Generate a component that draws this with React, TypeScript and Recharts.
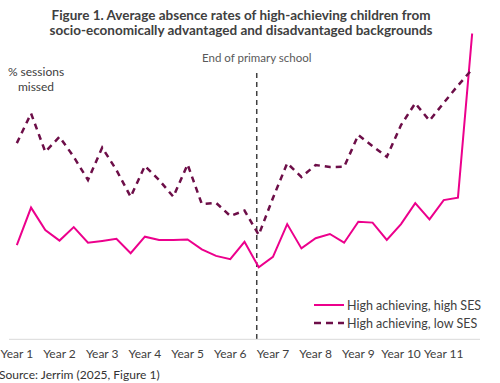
import React from "react"
import {
  LineChart,
  Line,
  XAxis,
  YAxis,
  ReferenceLine,
} from "recharts"

// three terms per school year, Year 1 to Year 11
const years = ["Year 1", "Year 2", "Year 3", "Year 4", "Year 5", "Year 6", "Year 7", "Year 8", "Year 9", "Year 10", "Year 11"]
const terms = ["Autumn", "Spring", "Summer"]

// % sessions missed (no axis values shown)
const highSes = [
  3.14, 4.39, 3.64, 3.29, 3.74, 3.22, 3.28, 3.35, 2.87, 3.42, 3.31,
  3.31, 3.33, 3.0, 2.78, 2.67, 3.25, 2.4, 2.75, 3.84, 3.03, 3.37,
  3.51, 3.22, 3.92, 3.89, 3.31, 3.84, 4.54, 4.0, 4.64, 4.72, 10.2,
]
const lowSes = [
  6.54, 7.53, 6.25, 6.75, 6.08, 5.31, 6.39, 5.64, 4.75, 5.78, 5.31,
  4.75, 5.83, 4.51, 4.55, 4.11, 4.29, 3.48, 4.71, 5.87, 5.41, 5.81,
  5.74, 5.75, 6.81, 6.44, 6.08, 7.14, 7.87, 7.29, 7.88, 8.46, 9.0,
]

const endOfPrimary = 16.86

const data = highSes.map((v, i) => ({
  idx: i,
  term: `${years[Math.floor(i / 3)]} ${terms[i % 3]}`,
  high: v,
  low: lowSes[i],
}))
const yearTicks = years.map((_, i) => i * 3)

const PINK = "#ec008c"
const MAROON = "#6d0e48"
const font = "Lato, 'Open Sans', sans-serif"

function LegendBox() {
  const row = { display: "flex", alignItems: "center", height: 18 }
  return (
    <div style={{ fontFamily: font, fontSize: 12.5, color: "#404040" }}>
      <div style={row}>
        <svg width={31} height={6}>
          <line x1={0} y1={3} x2={30} y2={3} stroke={PINK} strokeWidth={2} />
        </svg>
        <span style={{ marginLeft: 2 }}>High achieving, high SES</span>
      </div>
      <div style={row}>
        <svg width={31} height={6}>
          <line x1={0} y1={3} x2={30} y2={3} stroke={MAROON} strokeWidth={2.5} strokeDasharray="7 5" />
        </svg>
        <span style={{ marginLeft: 2 }}>High achieving, low SES</span>
      </div>
    </div>
  )
}

// eslint-disable-next-line @typescript-eslint/no-explicit-any
function RefLabel({ viewBox }: any) {
  const x = viewBox ? viewBox.x : 0
  const y = viewBox ? viewBox.y : 0
  return (
    <text x={x} y={y - 11} textAnchor="middle" fontFamily={font} fontSize={11.5} fill="#595959">
      End of primary school
    </text>
  )
}

export default function App() {
  return (
    <div style={{ position: "absolute", left: 0, top: 0, width: 500, height: 383, background: "#fff", overflow: "hidden", fontFamily: font }}>
      <div style={{ position: "absolute", left: 0, width: 482, top: 8, textAlign: "center", fontWeight: 700, fontSize: 13.5, lineHeight: "15px", color: "#404040" }}>
        Figure 1. Average absence rates of high-achieving children from
        <br />
        socio-economically advantaged and disadvantaged backgrounds
      </div>
      <div style={{ position: "absolute", left: 0, width: 72, top: 64, textAlign: "center", fontSize: 12, lineHeight: "15px", color: "#404040" }}>
        % sessions
        <br />
        missed
      </div>
      <div style={{ position: "absolute", left: -1, top: 367, fontSize: 12, color: "#333" }}>
        Source: Jerrim (2025, Figure 1)
      </div>
      <LineChart
        width={500}
        height={383}
        data={data}
        margin={{ top: 33.3, right: 20, bottom: 23.7, left: 9 }}
        style={{ position: "absolute", left: 0, top: 0 }}
      >
        <XAxis
          dataKey="idx"
          type="number"
          domain={[-0.55, 32.55]}
          allowDataOverflow
          ticks={yearTicks}
          tickFormatter={(v: number) => years[v / 3]}
          interval={0}
          axisLine={{ stroke: "#d9d9d9", strokeWidth: 1 }}
          tickLine={false}
          tick={{ fontSize: 12, fill: "#404040", fontFamily: font }}
          tickMargin={4}
          height={20}
        />
        <YAxis hide domain={[0, 10.2]} allowDataOverflow width={0} />
        <ReferenceLine
          segment={[{ x: endOfPrimary, y: 8.88 }, { x: endOfPrimary, y: 0 }]}
          stroke="#404040"
          strokeWidth={1.5}
          strokeDasharray="5 4"
          label={<RefLabel />}
        />
        <Line
          type="linear"
          dataKey="high"
          name="High achieving, high SES"
          stroke={PINK}
          strokeWidth={2}
          dot={false}
          isAnimationActive={false}
        />
        <Line
          type="linear"
          dataKey="low"
          name="High achieving, low SES"
          stroke={MAROON}
          strokeWidth={2.5}
          strokeDasharray="6 5"
          dot={false}
          isAnimationActive={false}
        />
      </LineChart>
      <div style={{ position: "absolute", left: 314, top: 296 }}>
        <LegendBox />
      </div>
    </div>
  )
}
